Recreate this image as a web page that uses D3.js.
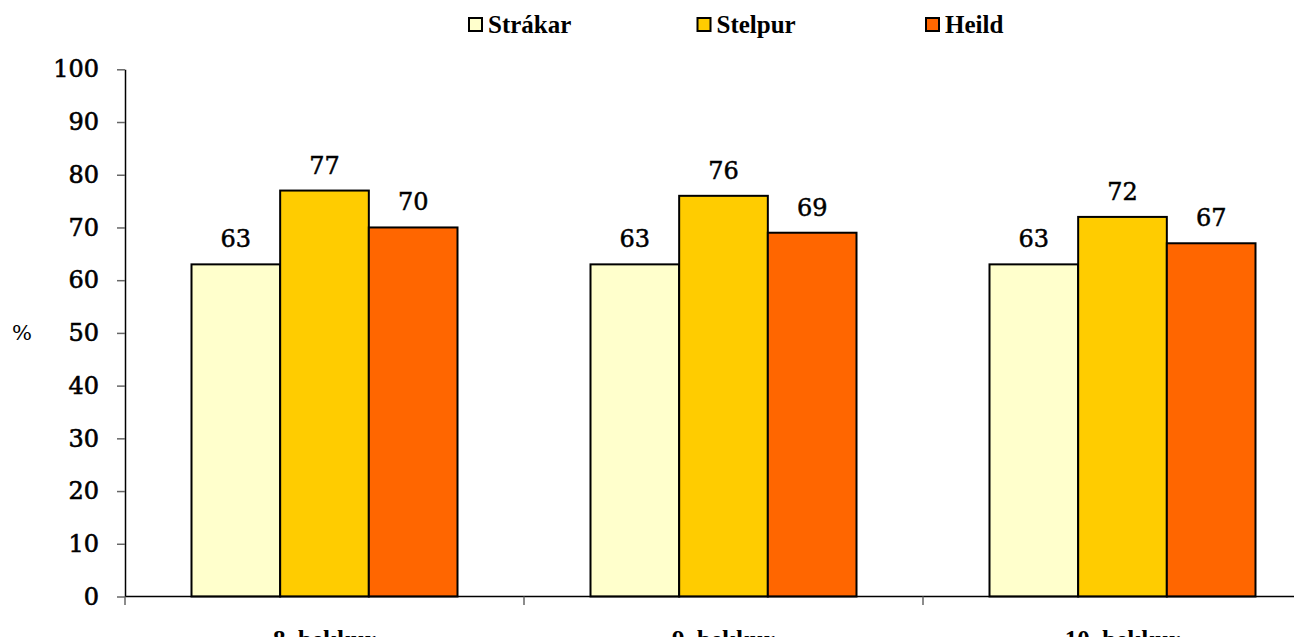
<!DOCTYPE html>
<html>
<head>
<meta charset="utf-8">
<script src="https://cdn.jsdelivr.net/npm/d3@7"></script>
<style>
html,body{margin:0;padding:0;background:#fff;overflow:hidden;}
svg{display:block;}
</style>
</head>
<body>
<svg id="chart" width="1294" height="637"></svg>
<script>
const categories = ["8. bekkur", "9. bekkur", "10. bekkur"];
const seriesNames = ["Strákar", "Stelpur", "Heild"];
const strakar = [63, 63, 63];
const stelpur = [77, 76, 72];
const heild = [70, 69, 67];
const yTicks = [0, 10, 20, 30, 40, 50, 60, 70, 80, 90, 100];
const colors = ["#FFFFCC", "#FFCC00", "#FF6600"];
const seriesValues = [strakar, stelpur, heild];

const svg = d3.select("#chart");
const numFont = "'DejaVu Serif', serif";
const legFont = "'Liberation Serif', 'Times New Roman', serif";

const x = d3.scaleBand().domain(categories).range([125, 1322]).paddingInner(1/3).paddingOuter(1/6);
const xs = d3.scaleBand().domain(seriesNames).range([0, x.bandwidth()]);
const y = d3.scaleLinear().domain([0, 100]).range([596.5, 69.3]);

// Bars
categories.forEach((c, ci) => {
  const g = svg.append("g").attr("transform", `translate(${x(c)},0)`);
  seriesNames.forEach((s, si) => {
    const v = seriesValues[si][ci];
    g.append("rect")
      .attr("x", xs(s)).attr("y", y(v))
      .attr("width", xs.bandwidth()).attr("height", y(0) - y(v))
      .attr("fill", colors[si]).attr("stroke", "#000").attr("stroke-width", 2);
    g.append("text")
      .attr("x", xs(s) + xs.bandwidth() / 2).attr("y", y(v) - 17)
      .attr("text-anchor", "middle")
      .attr("font-family", numFont).attr("font-size", 24)
      .attr("fill", "#000").attr("stroke", "#000").attr("stroke-width", 0.5)
      .text(v);
  });
});

// Y axis
const yAxis = d3.axisLeft(y).tickValues(yTicks).tickSize(8).tickPadding(18).tickSizeOuter(0);
const yg = svg.append("g").attr("transform", "translate(125,0)").call(yAxis);
yg.select(".domain").attr("stroke", "#000").attr("stroke-width", 1.5);
yg.selectAll(".tick line").attr("stroke", "#666").attr("stroke-width", 1.5);
yg.selectAll(".tick text").attr("font-family", numFont).attr("font-size", 24)
  .attr("fill", "#000").attr("stroke", "#000").attr("stroke-width", 0.6);

// X axis
const xAxis = d3.axisBottom(x).tickSize(0).tickSizeOuter(0).tickPadding(0);
const xg = svg.append("g").attr("transform", `translate(0,${y(0)})`).call(xAxis);
xg.select(".domain").attr("stroke", "#000").attr("stroke-width", 1.5).attr("d", `M125,0H1294`);
xg.selectAll(".tick text").attr("font-family", legFont).attr("font-size", 25).attr("font-weight", "bold")
  .attr("fill", "#000").attr("y", 51).attr("dy", 0);
// category boundary ticks
const bounds = categories.map(c => x(c) - x.step() * x.paddingInner() / 2);
xg.selectAll("line.bound").data(bounds).enter().append("line")
  .attr("class", "bound")
  .attr("x1", d => d).attr("x2", d => d).attr("y1", 0).attr("y2", 8.5)
  .attr("stroke", "#666").attr("stroke-width", 1.5);

// % label
svg.append("text").attr("x", 22).attr("y", y(50)).attr("dy", "0.35em")
  .attr("text-anchor", "middle").attr("font-family", numFont).attr("font-size", 21)
  .text("%");

// Legend
const leg = svg.append("g");
seriesNames.forEach((s, i) => {
  const lx = 469 + i * 228.5;
  leg.append("rect").attr("x", lx).attr("y", 18).attr("width", 13).attr("height", 13)
    .attr("fill", colors[i]).attr("stroke", "#000").attr("stroke-width", 2);
  leg.append("text").attr("x", lx + 19).attr("y", 33)
    .attr("font-family", legFont).attr("font-size", 25).attr("font-weight", "bold")
    .text(s);
});
</script>
</body>
</html>
